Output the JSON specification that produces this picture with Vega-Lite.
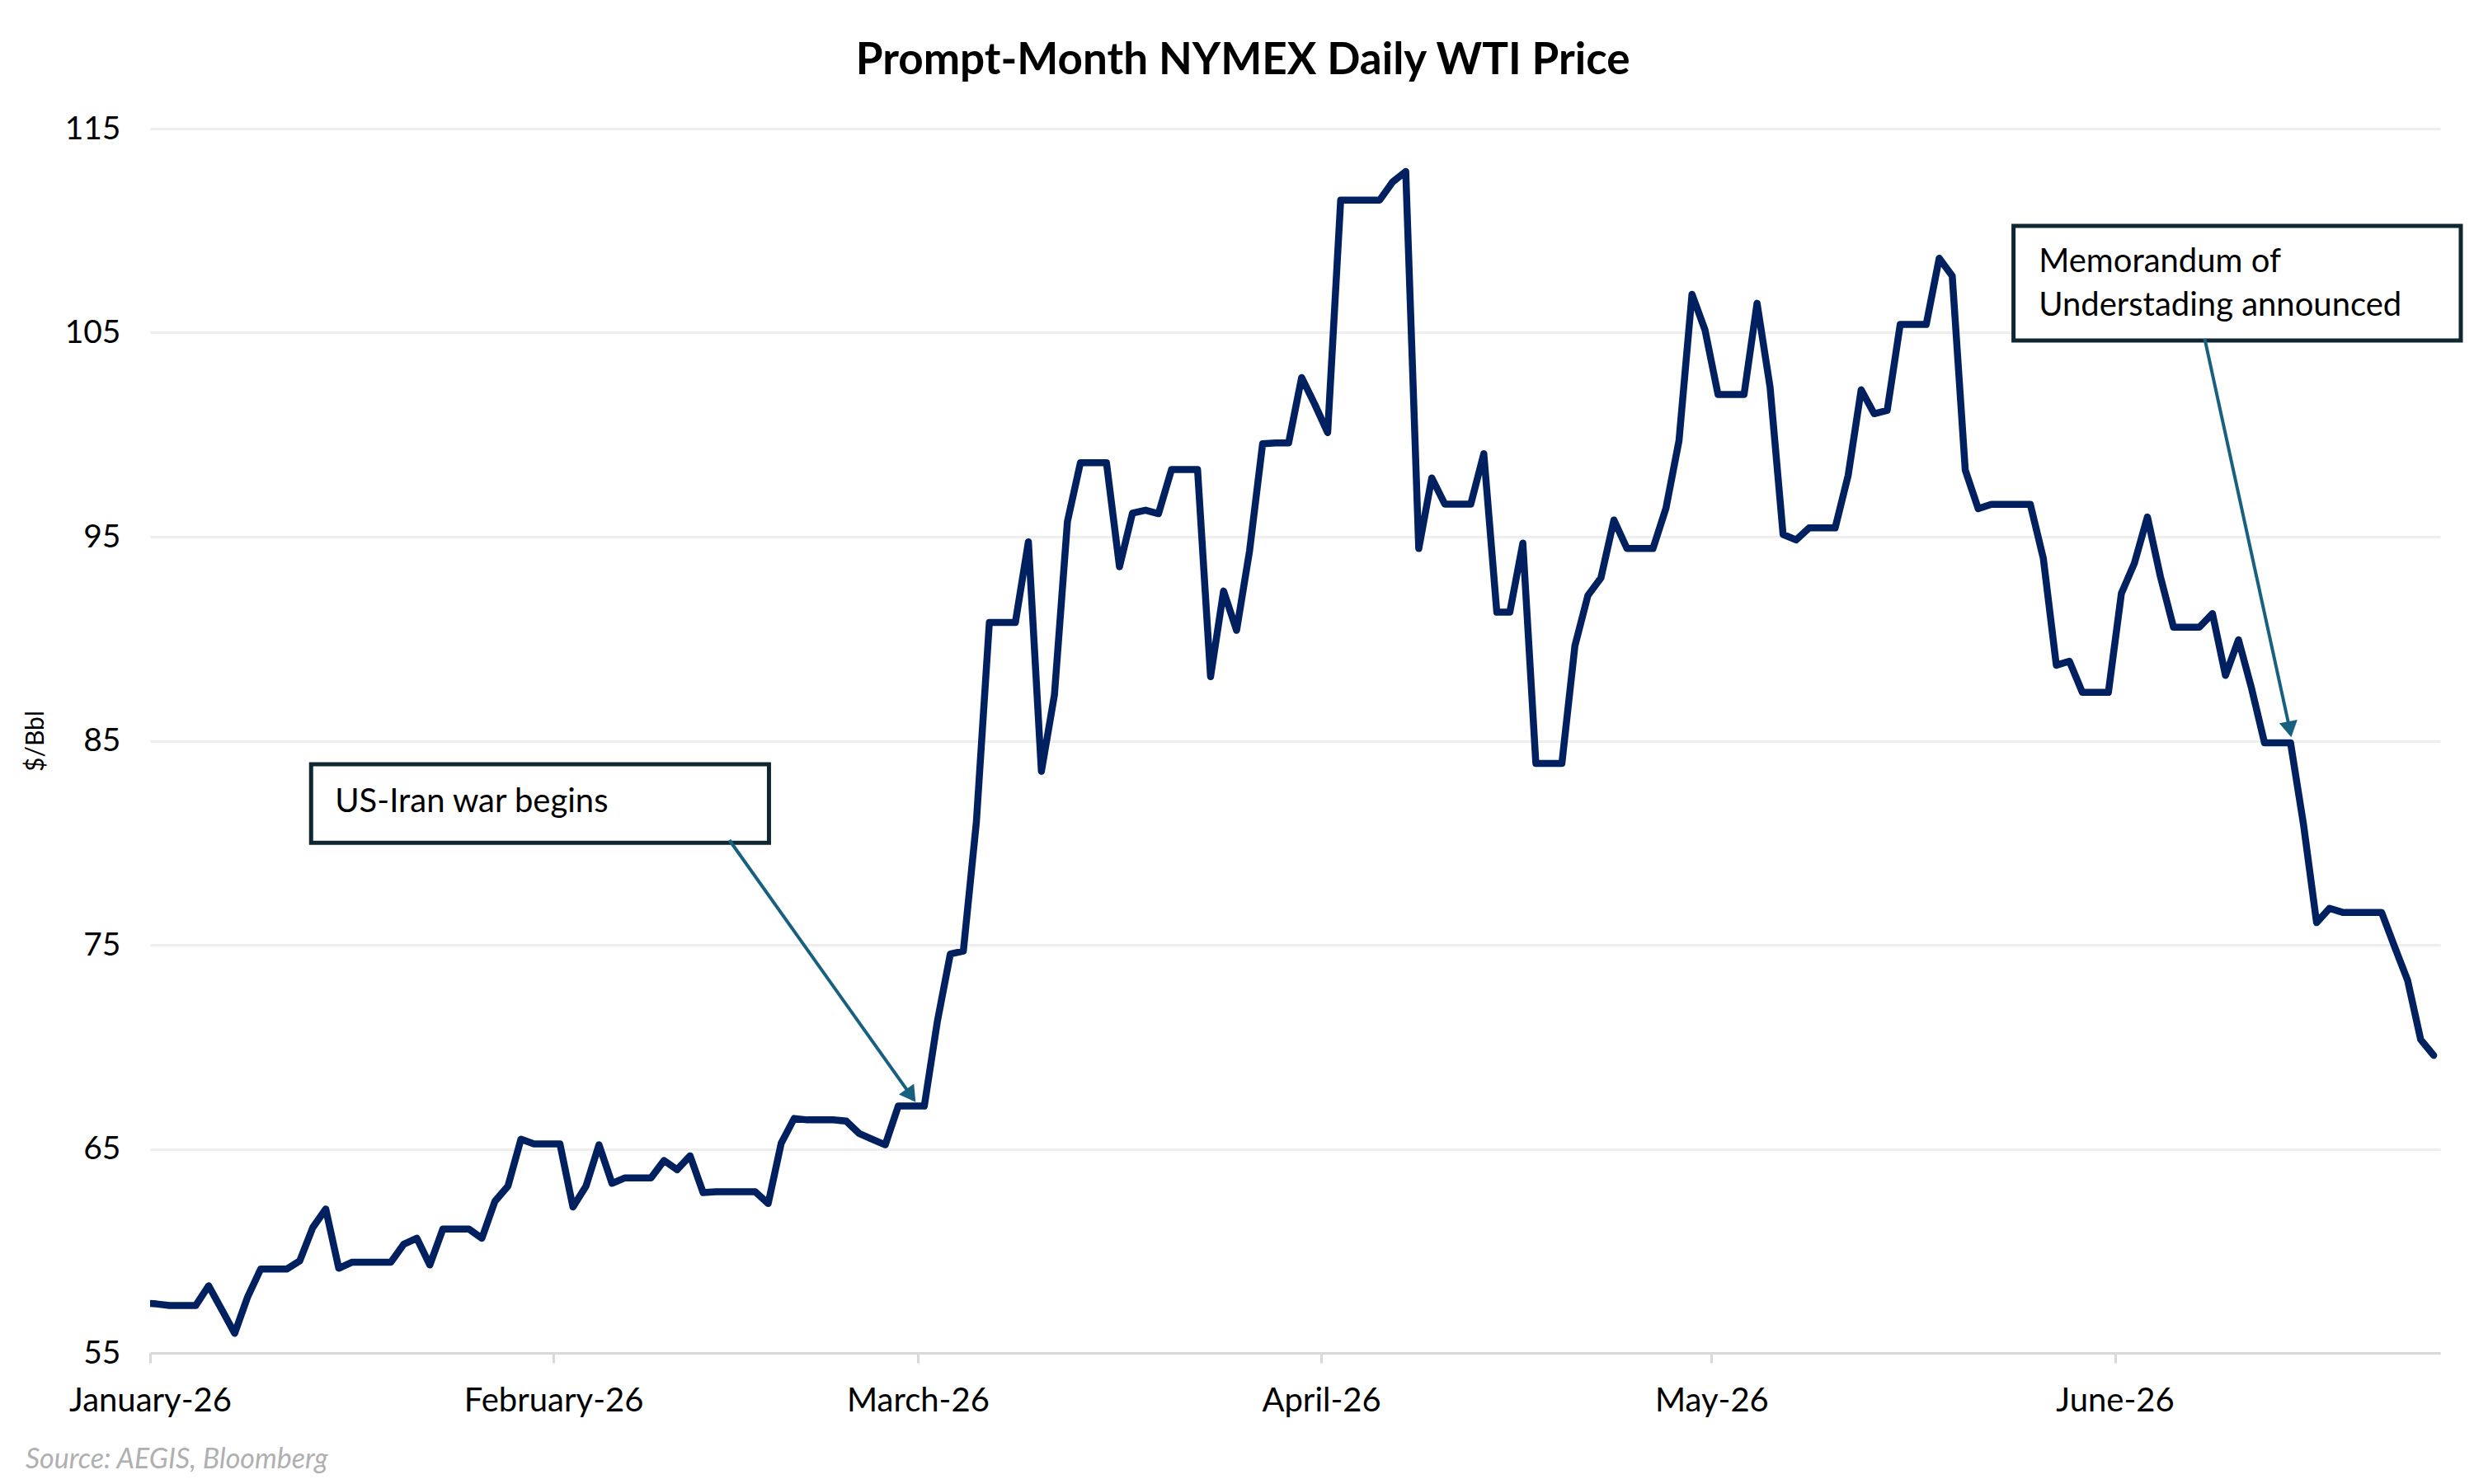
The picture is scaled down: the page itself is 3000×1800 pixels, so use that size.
{
  "$schema": "https://vega.github.io/schema/vega-lite/v6.json",
  "width": 2777,
  "height": 1485,
  "padding": {"left": 28, "top": 48, "right": 10, "bottom": 10},
  "background": "white",
  "config": {
    "view": {"stroke": null},
    "font": "Lato",
    "text": {"font": "Lato"}
  },
  "title": {
    "text": "Prompt-Month NYMEX Daily WTI Price",
    "font": "Lato",
    "fontSize": 53,
    "fontWeight": "bold",
    "color": "#000000",
    "anchor": "middle",
    "frame": "bounds",
    "offset": 36
  },
  "datasets": {
    "wti": [
      {"date": "2025-12-31T12:00", "price": 57.45},
      {"date": "2026-01-01T12:00", "price": 57.40},
      {"date": "2026-01-02T12:00", "price": 57.32},
      {"date": "2026-01-03T12:00", "price": 57.32},
      {"date": "2026-01-04T12:00", "price": 57.32},
      {"date": "2026-01-05T12:00", "price": 58.29},
      {"date": "2026-01-06T12:00", "price": 57.13},
      {"date": "2026-01-07T12:00", "price": 55.96},
      {"date": "2026-01-08T12:00", "price": 57.75},
      {"date": "2026-01-09T12:00", "price": 59.11},
      {"date": "2026-01-10T12:00", "price": 59.11},
      {"date": "2026-01-11T12:00", "price": 59.11},
      {"date": "2026-01-12T12:00", "price": 59.51},
      {"date": "2026-01-13T12:00", "price": 61.14},
      {"date": "2026-01-14T12:00", "price": 62.05},
      {"date": "2026-01-15T12:00", "price": 59.15},
      {"date": "2026-01-16T12:00", "price": 59.44},
      {"date": "2026-01-17T12:00", "price": 59.44},
      {"date": "2026-01-18T12:00", "price": 59.44},
      {"date": "2026-01-19T12:00", "price": 59.44},
      {"date": "2026-01-20T12:00", "price": 60.33},
      {"date": "2026-01-21T12:00", "price": 60.62},
      {"date": "2026-01-22T12:00", "price": 59.31},
      {"date": "2026-01-23T12:00", "price": 61.07},
      {"date": "2026-01-24T12:00", "price": 61.07},
      {"date": "2026-01-25T12:00", "price": 61.07},
      {"date": "2026-01-26T12:00", "price": 60.62},
      {"date": "2026-01-27T12:00", "price": 62.43},
      {"date": "2026-01-28T12:00", "price": 63.17},
      {"date": "2026-01-29T12:00", "price": 65.47},
      {"date": "2026-01-30T12:00", "price": 65.24},
      {"date": "2026-01-31T12:00", "price": 65.24},
      {"date": "2026-02-01T12:00", "price": 65.24},
      {"date": "2026-02-02T12:00", "price": 62.15},
      {"date": "2026-02-03T12:00", "price": 63.17},
      {"date": "2026-02-04T12:00", "price": 65.20},
      {"date": "2026-02-05T12:00", "price": 63.31},
      {"date": "2026-02-06T12:00", "price": 63.58},
      {"date": "2026-02-07T12:00", "price": 63.58},
      {"date": "2026-02-08T12:00", "price": 63.58},
      {"date": "2026-02-09T12:00", "price": 64.43},
      {"date": "2026-02-10T12:00", "price": 63.98},
      {"date": "2026-02-11T12:00", "price": 64.66},
      {"date": "2026-02-12T12:00", "price": 62.86},
      {"date": "2026-02-13T12:00", "price": 62.90},
      {"date": "2026-02-14T12:00", "price": 62.90},
      {"date": "2026-02-15T12:00", "price": 62.90},
      {"date": "2026-02-16T12:00", "price": 62.90},
      {"date": "2026-02-17T12:00", "price": 62.32},
      {"date": "2026-02-18T12:00", "price": 65.27},
      {"date": "2026-02-19T12:00", "price": 66.49},
      {"date": "2026-02-20T12:00", "price": 66.42},
      {"date": "2026-02-21T12:00", "price": 66.42},
      {"date": "2026-02-22T12:00", "price": 66.42},
      {"date": "2026-02-23T12:00", "price": 66.36},
      {"date": "2026-02-24T12:00", "price": 65.75},
      {"date": "2026-02-25T12:00", "price": 65.47},
      {"date": "2026-02-26T12:00", "price": 65.20},
      {"date": "2026-02-27T12:00", "price": 67.10},
      {"date": "2026-02-28T12:00", "price": 67.10},
      {"date": "2026-03-01T12:00", "price": 67.10},
      {"date": "2026-03-02T12:00", "price": 71.23},
      {"date": "2026-03-03T12:00", "price": 74.55},
      {"date": "2026-03-04T12:00", "price": 74.69},
      {"date": "2026-03-05T12:00", "price": 81.0},
      {"date": "2026-03-06T12:00", "price": 90.8},
      {"date": "2026-03-07T12:00", "price": 90.8},
      {"date": "2026-03-08T12:00", "price": 90.8},
      {"date": "2026-03-09T12:00", "price": 94.75},
      {"date": "2026-03-10T12:00", "price": 83.5},
      {"date": "2026-03-11T12:00", "price": 87.24},
      {"date": "2026-03-12T12:00", "price": 95.74},
      {"date": "2026-03-13T12:00", "price": 98.63},
      {"date": "2026-03-14T12:00", "price": 98.63},
      {"date": "2026-03-15T12:00", "price": 98.63},
      {"date": "2026-03-16T12:00", "price": 93.53},
      {"date": "2026-03-17T12:00", "price": 96.16},
      {"date": "2026-03-18T12:00", "price": 96.3},
      {"date": "2026-03-19T12:00", "price": 96.13},
      {"date": "2026-03-20T12:00", "price": 98.29},
      {"date": "2026-03-21T12:00", "price": 98.29},
      {"date": "2026-03-22T12:00", "price": 98.29},
      {"date": "2026-03-23T12:00", "price": 88.14},
      {"date": "2026-03-24T12:00", "price": 92.34},
      {"date": "2026-03-25T12:00", "price": 90.41},
      {"date": "2026-03-26T12:00", "price": 94.32},
      {"date": "2026-03-27T12:00", "price": 99.56},
      {"date": "2026-03-28T12:00", "price": 99.6},
      {"date": "2026-03-29T12:00", "price": 99.6},
      {"date": "2026-03-30T12:00", "price": 102.8},
      {"date": "2026-03-31T12:00", "price": 101.5},
      {"date": "2026-04-01T12:00", "price": 100.1},
      {"date": "2026-04-02T12:00", "price": 111.5},
      {"date": "2026-04-03T12:00", "price": 111.5},
      {"date": "2026-04-04T12:00", "price": 111.5},
      {"date": "2026-04-05T12:00", "price": 111.5},
      {"date": "2026-04-06T12:00", "price": 112.39},
      {"date": "2026-04-07T12:00", "price": 112.9},
      {"date": "2026-04-08T12:00", "price": 94.42},
      {"date": "2026-04-09T12:00", "price": 97.88},
      {"date": "2026-04-10T12:00", "price": 96.6},
      {"date": "2026-04-11T12:00", "price": 96.6},
      {"date": "2026-04-12T12:00", "price": 96.6},
      {"date": "2026-04-13T12:00", "price": 99.07},
      {"date": "2026-04-14T12:00", "price": 91.3},
      {"date": "2026-04-15T12:00", "price": 91.3},
      {"date": "2026-04-16T12:00", "price": 94.69},
      {"date": "2026-04-17T12:00", "price": 83.89},
      {"date": "2026-04-18T12:00", "price": 83.89},
      {"date": "2026-04-19T12:00", "price": 83.89},
      {"date": "2026-04-20T12:00", "price": 89.65},
      {"date": "2026-04-21T12:00", "price": 92.12},
      {"date": "2026-04-22T12:00", "price": 92.98},
      {"date": "2026-04-23T12:00", "price": 95.82},
      {"date": "2026-04-24T12:00", "price": 94.42},
      {"date": "2026-04-25T12:00", "price": 94.42},
      {"date": "2026-04-26T12:00", "price": 94.42},
      {"date": "2026-04-27T12:00", "price": 96.4},
      {"date": "2026-04-28T12:00", "price": 99.7},
      {"date": "2026-04-29T12:00", "price": 106.88},
      {"date": "2026-04-30T12:00", "price": 105.13},
      {"date": "2026-05-01T12:00", "price": 101.97},
      {"date": "2026-05-02T12:00", "price": 101.97},
      {"date": "2026-05-03T12:00", "price": 101.97},
      {"date": "2026-05-04T12:00", "price": 106.44},
      {"date": "2026-05-05T12:00", "price": 102.33},
      {"date": "2026-05-06T12:00", "price": 95.11},
      {"date": "2026-05-07T12:00", "price": 94.84},
      {"date": "2026-05-08T12:00", "price": 95.43},
      {"date": "2026-05-09T12:00", "price": 95.43},
      {"date": "2026-05-10T12:00", "price": 95.43},
      {"date": "2026-05-11T12:00", "price": 98.0},
      {"date": "2026-05-12T12:00", "price": 102.2},
      {"date": "2026-05-13T12:00", "price": 101.03},
      {"date": "2026-05-14T12:00", "price": 101.19},
      {"date": "2026-05-15T12:00", "price": 105.4},
      {"date": "2026-05-16T12:00", "price": 105.4},
      {"date": "2026-05-17T12:00", "price": 105.4},
      {"date": "2026-05-18T12:00", "price": 108.65},
      {"date": "2026-05-19T12:00", "price": 107.78},
      {"date": "2026-05-20T12:00", "price": 98.27},
      {"date": "2026-05-21T12:00", "price": 96.37},
      {"date": "2026-05-22T12:00", "price": 96.59},
      {"date": "2026-05-23T12:00", "price": 96.59},
      {"date": "2026-05-24T12:00", "price": 96.59},
      {"date": "2026-05-25T12:00", "price": 96.59},
      {"date": "2026-05-26T12:00", "price": 93.94},
      {"date": "2026-05-27T12:00", "price": 88.7},
      {"date": "2026-05-28T12:00", "price": 88.9},
      {"date": "2026-05-29T12:00", "price": 87.37},
      {"date": "2026-05-30T12:00", "price": 87.37},
      {"date": "2026-05-31T12:00", "price": 87.37},
      {"date": "2026-06-01T12:00", "price": 92.22},
      {"date": "2026-06-02T12:00", "price": 93.7},
      {"date": "2026-06-03T12:00", "price": 95.97},
      {"date": "2026-06-04T12:00", "price": 93.04},
      {"date": "2026-06-05T12:00", "price": 90.57},
      {"date": "2026-06-06T12:00", "price": 90.57},
      {"date": "2026-06-07T12:00", "price": 90.57},
      {"date": "2026-06-08T12:00", "price": 91.23},
      {"date": "2026-06-09T12:00", "price": 88.2},
      {"date": "2026-06-10T12:00", "price": 89.95},
      {"date": "2026-06-11T12:00", "price": 87.58},
      {"date": "2026-06-12T12:00", "price": 84.9},
      {"date": "2026-06-13T12:00", "price": 84.9},
      {"date": "2026-06-14T12:00", "price": 84.9},
      {"date": "2026-06-15T12:00", "price": 80.88},
      {"date": "2026-06-16T12:00", "price": 76.09},
      {"date": "2026-06-17T12:00", "price": 76.79},
      {"date": "2026-06-18T12:00", "price": 76.59},
      {"date": "2026-06-19T12:00", "price": 76.59},
      {"date": "2026-06-20T12:00", "price": 76.59},
      {"date": "2026-06-21T12:00", "price": 76.59},
      {"date": "2026-06-22T12:00", "price": 74.9},
      {"date": "2026-06-23T12:00", "price": 73.25},
      {"date": "2026-06-24T12:00", "price": 70.36},
      {"date": "2026-06-25T12:00", "price": 69.58}
    ],
    "boxes": [
      {"id": "war", "date": "2026-01-13T09:00", "end": "2026-02-17T13:30", "price": 83.85, "bottom": 80.0},
      {"id": "mou", "date": "2026-05-24T05:00", "end": "2026-06-27T14:00", "price": 110.23, "bottom": 104.62}
    ],
    "labels": [
      {"id": "war", "date": "2026-01-15T05:00", "price": 82.0, "label": "US-Iran war begins"},
      {"id": "mou", "date": "2026-05-26T03:30", "price": 108.45, "label": "Memorandum of"},
      {"id": "mou", "date": "2026-05-26T03:30", "price": 106.31, "label": "Understading announced"}
    ],
    "arrows": [
      {"id": "war", "date": "2026-02-14T12:30", "price": 80.13, "to": "2026-02-28T11:30", "toPrice": 67.61},
      {"id": "mou", "date": "2026-06-07T21:40", "price": 104.7, "to": "2026-06-14T10:35", "toPrice": 85.56}
    ],
    "heads": [
      {"id": "war", "date": "2026-02-28T11:30", "price": 67.61},
      {"id": "mou", "date": "2026-06-14T10:35", "price": 85.56}
    ],
    "source": [
      {"date": "2025-12-22T10:10", "price": 49.75, "label": "Source: AEGIS, Bloomberg"}
    ]
  },
  "encoding": {
    "x": {
      "field": "date",
      "type": "temporal",
      "scale": {"domain": [{"year": 2026, "month": 1, "date": 1}, {"year": 2026, "month": 6, "date": 26}]},
      "axis": {
        "title": null,
        "format": "%B-%y",
        "values": [
          {"year": 2026, "month": 1, "date": 1},
          {"year": 2026, "month": 2, "date": 1},
          {"year": 2026, "month": 3, "date": 1},
          {"year": 2026, "month": 4, "date": 1},
          {"year": 2026, "month": 5, "date": 1},
          {"year": 2026, "month": 6, "date": 1}
        ],
        "grid": false,
        "labelFont": "Lato",
        "labelFontSize": 40,
        "labelColor": "#000000",
        "labelPadding": 26,
        "labelLimit": 0,
        "domainColor": "#d9d9d9",
        "domainWidth": 3,
        "tickColor": "#d9d9d9",
        "tickWidth": 3,
        "tickSize": 12,
        "labelFlush": false,
        "labelOverlap": false
      }
    },
    "y": {
      "field": "price",
      "type": "quantitative",
      "scale": {"domain": [55, 115], "nice": false, "zero": false},
      "axis": {
        "title": "$/Bbl",
        "titleFont": "Lato",
        "titleFontSize": 30,
        "titleFontWeight": "normal",
        "titleColor": "#000000",
        "titlePadding": 20,
        "values": [55, 65, 75, 85, 95, 105, 115],
        "ticks": false,
        "domain": false,
        "grid": true,
        "gridColor": "#eeeeee",
        "gridWidth": 3,
        "labelFont": "Lato",
        "labelFontSize": 39,
        "labelColor": "#000000",
        "labelPadding": 36,
        "minExtent": 104,
        "maxExtent": 104
      }
    }
  },
  "layer": [
    {
      "data": {"name": "wti"},
      "mark": {"type": "line", "color": "#002060", "strokeWidth": 8.5, "strokeJoin": "round", "strokeCap": "round", "clip": true}
    },
    {
      "data": {"name": "boxes"},
      "mark": {"type": "rect", "fill": "#ffffff", "stroke": "#0f2730", "strokeWidth": 5},
      "encoding": {
        "x2": {"field": "end"},
        "y2": {"field": "bottom"}
      }
    },
    {
      "data": {"name": "labels"},
      "mark": {"type": "text", "font": "Lato", "fontSize": 40, "color": "#000000", "align": "left", "baseline": "middle"},
      "encoding": {
        "text": {"field": "label", "type": "nominal"}
      }
    },
    {
      "data": {"name": "arrows"},
      "mark": {"type": "rule", "color": "#17607f", "strokeWidth": 4},
      "encoding": {
        "x2": {"field": "to"},
        "y2": {"field": "toPrice"}
      }
    },
    {
      "data": {"name": "heads"},
      "mark": {"type": "point", "shape": "triangle-up", "filled": true, "color": "#17607f", "opacity": 1, "size": 500},
      "encoding": {
        "angle": {"field": "id", "type": "nominal", "scale": {"domain": ["war", "mou"], "range": [144.6, 169.6]}, "legend": null}
      }
    },
    {
      "data": {"name": "source"},
      "mark": {"type": "text", "font": "Lato", "fontSize": 34, "fontStyle": "italic", "color": "#b0b0b0", "align": "left", "baseline": "middle"},
      "encoding": {
        "text": {"field": "label", "type": "nominal"}
      }
    }
  ]
}
